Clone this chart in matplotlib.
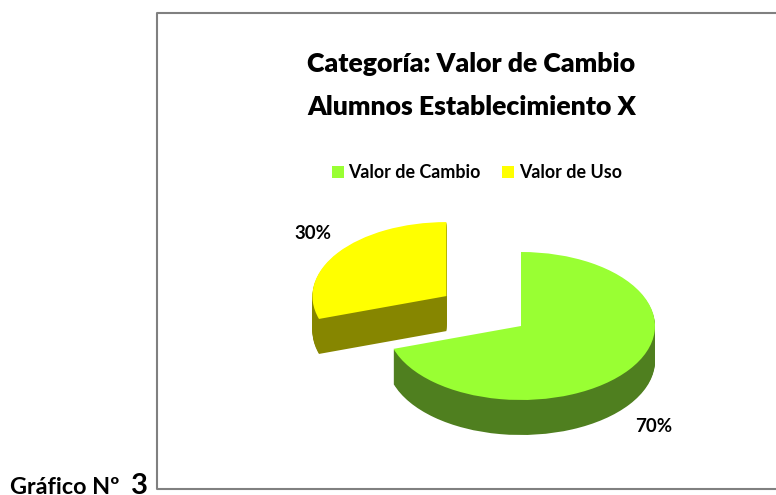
import matplotlib
matplotlib.use('Agg')
import matplotlib.pyplot as plt
from matplotlib.lines import Line2D

plt.rcParams['font.family'] = ['Lato', 'DejaVu Sans']

# Data
categories = ['Valor de Cambio', 'Valor de Uso']
values = [70, 30]
top_colors = ['#99ff33', '#ffff00']
side_colors = ['#4f7f1f', '#868600']

W, H = 776, 495
CX, CY = 521, 326   # pie centre in pixels
RX, RY = 134, 74    # ellipse radii in pixels
DEPTH = 35

fig = plt.figure(figsize=(W / 100, H / 100), dpi=100)
ax = fig.add_axes([0, 0, 1, 1])


def px(x, y):
    return x / W, 1 - y / H


# Side of the pie: same pie stacked downwards
for d in range(DEPTH, 0, -1):
    ax.pie(values, colors=side_colors, explode=[0, 0.688], startangle=90,
           counterclock=False, center=(0, -d / RY), frame=True,
           wedgeprops={'linewidth': 0})
wedges, _ = ax.pie(values, colors=top_colors, explode=[0, 0.688], startangle=90,
                   counterclock=False, center=(0, 0), frame=True,
                   wedgeprops={'linewidth': 0})

# pixels -> pie units, so the circle comes out as an ellipse
ax.set_aspect('auto')
ax.set_xlim(-CX / RX, (W - CX) / RX)
ax.set_ylim((CY - H) / RY, CY / RY)
ax.axis('off')

# Frame (the right side runs off the picture)
fig.add_artist(Line2D([px(W, 13)[0], px(157, 13)[0], px(157, 489)[0], px(W, 489)[0]],
                      [px(W, 13)[1], px(157, 13)[1], px(157, 489)[1], px(W, 489)[1]],
                      color='#808080', lw=1.5))

# Title
tx, ty = px(471.5, 64)
fig.text(tx, ty, 'Categoría: Valor de Cambio', fontsize=19.2, fontweight='heavy',
         ha='center', va='center', color='black')
tx, ty = px(471.5, 107)
fig.text(tx, ty, 'Alumnos Establecimiento X', fontsize=19.2, fontweight='heavy',
         ha='center', va='center', color='black')

# Legend
fig.legend(wedges, categories, loc='center', bbox_to_anchor=px(477, 173), ncol=2,
           frameon=False, prop={'size': 12.9, 'weight': 'bold'},
           handlelength=0.65, handleheight=0.65, handletextpad=0.28, columnspacing=1.2)

# Percentage labels
x, y = px(654, 426)
fig.text(x, y, f'{values[0]}%', fontsize=13.5, fontweight='bold', ha='center', va='center')
x, y = px(313, 234)
fig.text(x, y, f'{values[1]}%', fontsize=13.5, fontweight='bold', ha='center', va='center')

# Caption, sits right on the lower edge in the source
x, y = px(10, 494)
fig.text(x, y, 'Gráfico Nº', fontsize=16.8, fontweight='bold', ha='left', va='baseline')
x, y = px(131, 494)
fig.text(x, y, '3', fontsize=21, fontweight='bold', ha='left', va='baseline')

fig.savefig('out.png', dpi=100)
